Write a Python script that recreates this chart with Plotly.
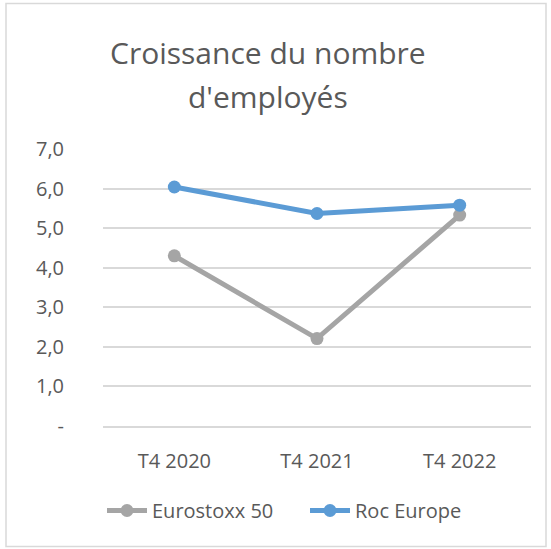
import plotly.graph_objects as go

categories = ["T4 2020", "T4 2021", "T4 2022"]
eurostoxx = [4.3, 2.21, 5.33]
roc_europe = [6.04, 5.37, 5.58]
y_tickvals = [0, 1, 2, 3, 4, 5, 6, 7]
y_ticktext = ["-", "1,0", "2,0", "3,0", "4,0", "5,0", "6,0", "7,0"]
title_lines = ["Croissance du nombre", "d'employés"]

W, H = 551, 549
L, R, T, B = 103, 20, 148.7, 122.7
pw = W - L - R
ph = H - T - B

def px_x(px):
    return (px - L) / pw

def px_y(py):
    return (H - B - py) / ph

FONT = "Open Sans"
TXT = "#595959"

fig = go.Figure()
fig.add_trace(go.Scatter(
    x=categories, y=eurostoxx, name="Eurostoxx 50", mode="lines+markers",
    line=dict(color="#A5A5A5", width=5), marker=dict(size=13, color="#A5A5A5")))
fig.add_trace(go.Scatter(
    x=categories, y=roc_europe, name="Roc Europe", mode="lines+markers",
    line=dict(color="#5B9BD5", width=5), marker=dict(size=13, color="#5B9BD5")))

annotations = []
for i, (line, yc) in enumerate(zip(title_lines, [52, 96])):
    annotations.append(dict(text=line, xref="paper", yref="paper", x=px_x(268), y=px_y(yc),
                            xanchor="center", yanchor="middle", showarrow=False,
                            font=dict(family=FONT, size=30, color=TXT)))

fig.update_layout(
    width=W, height=H,
    margin=dict(l=L, r=R, t=T, b=B, autoexpand=False),
    paper_bgcolor="white", plot_bgcolor="white",
    font=dict(family=FONT, color=TXT, size=20),
    annotations=annotations,
    showlegend=True,
    legend=dict(orientation="h", x=px_x(305), xanchor="center", y=px_y(511), yanchor="middle",
                font=dict(family=FONT, size=20, color=TXT), itemwidth=40,
                entrywidth=148, entrywidthmode="pixels",
                bgcolor="rgba(0,0,0,0)"),
    xaxis=dict(range=[-0.5, 2.5], showgrid=False, showline=True, linecolor="#D9D9D9", linewidth=1.5,
               ticks="", ticklabelstandoff=16, tickfont=dict(size=20, color=TXT)),
    yaxis=dict(range=[0, 7], tickvals=y_tickvals, ticktext=y_ticktext,
               showgrid=True, gridcolor="#D9D9D9", gridwidth=1.5, zeroline=False,
               showline=False, ticks="", ticklabelstandoff=38,
               tickfont=dict(size=20, color=TXT)),
    shapes=[dict(type="rect", xref="paper", yref="paper",
                 x0=px_x(6), x1=px_x(546), y0=px_y(547), y1=px_y(3),
                 line=dict(color="#D9D9D9", width=1.5), fillcolor="rgba(0,0,0,0)", layer="below")],
)

fig.write_html("out.html", config={"displayModeBar": False},
               post_script="document.body.style.margin='0';")
